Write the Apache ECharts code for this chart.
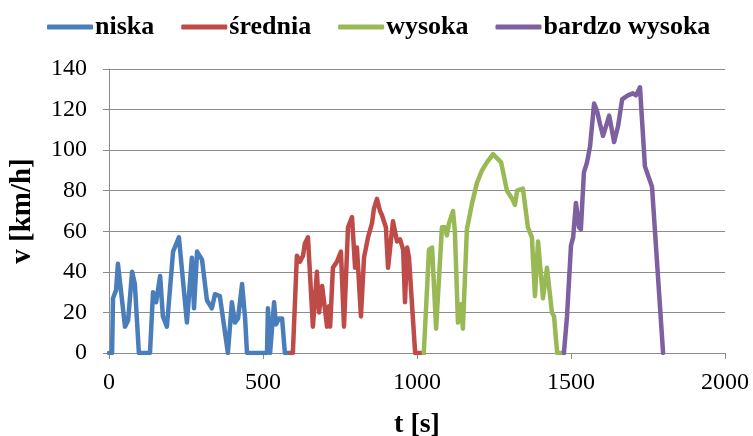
<!DOCTYPE html>
<html>
<head>
<meta charset="utf-8">
<script src="https://cdn.jsdelivr.net/npm/echarts@6/dist/echarts.min.js"></script>
<style>html,body{margin:0;padding:0;background:#fff;}#c{width:753px;height:436px;}</style>
</head>
<body>
<div id="c"></div>
<script>
const seriesNames = ['niska', 'średnia', 'wysoka', 'bardzo wysoka'];
const xTicks = [0, 500, 1000, 1500, 2000];
const yTicks = [0, 20, 40, 60, 80, 100, 120, 140];

const niskaT = [0,10,13,23,29,52,62,75,84,97,133,143,153,166,175,188,208,227,253,269,276,286,302,318,334,344,360,373,386,399,409,419,432,442,448,513,516,523,536,542,552,562,571,589];
const niskaV = [0,0,27,31,44,13,16,40,34,0,0,30,25,38,18,13,50,57,15,47,22,50,46,26,22,29,28,14,0,25,15,17,34,17,0,0,22,0,25,14,17,17,0,0];

const sredniaT = [589,597,610,620,630,636,646,662,675,682,692,708,714,718,727,740,753,763,776,789,799,805,818,828,841,854,860,870,880,886,899,906,922,935,945,955,961,968,974,994,1022];
const sredniaV = [0,0,48,45,48,54,57,13,40,20,33,13,23,13,42,45,50,13,62,67,42,52,18,47,57,64,71,76,70,68,62,42,65,55,56,51,25,52,47,0,0];

const wysokaT = [1022,1026,1039,1049,1062,1081,1091,1097,1104,1117,1123,1133,1143,1149,1162,1179,1195,1211,1227,1247,1273,1292,1309,1318,1325,1344,1360,1373,1383,1393,1409,1422,1438,1445,1455,1477];
const wysokaV = [0,0,51,52,12,62,62,58,64,70,60,15,24,12,61,74,84,90,94,98,94,80,76,73,80,81,62,57,28,55,27,42,20,18,0,0];

const bardzoT = [1477,1487,1500,1507,1516,1526,1532,1542,1552,1562,1575,1585,1594,1604,1614,1624,1640,1653,1666,1675,1685,1701,1711,1724,1740,1763,1799,1800];
const bardzoV = [0,18,53,57,74,62,61,89,94,102,123,119,113,107,112,117,104,112,125,126,127,128,127,131,92,82,0,0];

const colors = ['#4A7EBB', '#BE4B48', '#98B954', '#7D60A0'];
const phases = [[niskaT, niskaV], [sredniaT, sredniaV], [wysokaT, wysokaV], [bardzoT, bardzoV]];

const chart = echarts.init(document.getElementById('c'), null, {renderer: 'canvas'});
const serif = 'Liberation Serif';
chart.setOption({
  animation: false,
  backgroundColor: '#fff',
  legend: {
    left: 42,
    top: 9,
    itemWidth: 46,
    itemHeight: 5,
    itemGap: 27,
    icon: 'roundRect',
    textStyle: {fontFamily: serif, fontWeight: 'bold', fontSize: 26, color: '#000', padding: [0, 0, 0, -3]},
    data: seriesNames
  },
  grid: {left: 109, right: 28, top: 69, bottom: 83, containLabel: false, outerBoundsMode: 'none'},
  xAxis: {
    type: 'value',
    min: xTicks[0], max: xTicks[xTicks.length - 1], interval: 500,
    name: 't [s]', nameLocation: 'middle', nameGap: 58,
    nameTextStyle: {fontFamily: serif, fontWeight: 'bold', fontSize: 28, color: '#000'},
    axisLine: {lineStyle: {color: '#8c8c8c', width: 1}},
    axisTick: {show: true, length: 6, lineStyle: {color: '#8c8c8c'}},
    axisLabel: {fontFamily: serif, fontSize: 24, color: '#000', margin: 18, formatter: v => String(v)},
    splitLine: {show: false}
  },
  yAxis: {
    type: 'value',
    min: yTicks[0], max: yTicks[yTicks.length - 1], interval: 20,
    name: 'v [km/h]', nameLocation: 'middle', nameGap: 72, nameRotate: 90,
    nameTextStyle: {fontFamily: serif, fontWeight: 'bold', fontSize: 29, color: '#000'},
    axisLine: {show: true, lineStyle: {color: '#8c8c8c', width: 1}},
    axisTick: {show: true, length: 6, lineStyle: {color: '#8c8c8c'}},
    axisLabel: {fontFamily: serif, fontSize: 24, color: '#000', margin: 22, formatter: v => String(v)},
    splitLine: {show: true, lineStyle: {color: '#8c8c8c', width: 1}}
  },
  series: phases.map((p, i) => ({
    name: seriesNames[i],
    type: 'line',
    data: p[0].map((t, j) => [t, p[1][j]]),
    showSymbol: false,
    symbol: 'none',
    lineStyle: {color: colors[i], width: 4.5, join: 'round', cap: 'round'},
    itemStyle: {color: colors[i]},
    z: 2 + i
  }))
});
</script>
</body>
</html>
